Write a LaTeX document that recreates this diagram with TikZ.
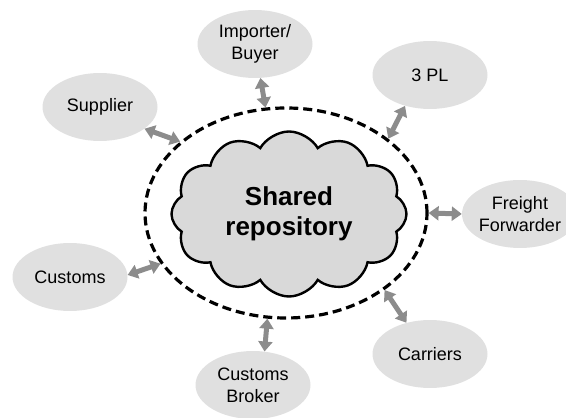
\documentclass[tikz,border=0pt]{standalone}
\usepackage{fontspec}
\setmainfont{Liberation Sans}
\usetikzlibrary{shapes}
\usetikzlibrary{arrows.meta}

\definecolor{partyfill}{HTML}{E0E0E0}
\definecolor{repofill}{HTML}{D9D9D9}
\definecolor{linkgray}{HTML}{8C8C8C}

\begin{document}
\begin{tikzpicture}[x=1pt,y=1pt,
    party/.style={ellipse,fill=partyfill,minimum width=115pt,minimum height=68pt,
      inner sep=0pt,align=center,font=\fontsize{18}{22}\selectfont},
    link/.style={{Triangle[length=10pt,width=14pt]}-{Triangle[length=10pt,width=14pt]},
      line width=5pt,draw=linkgray}]
    \useasboundingbox (0,0) rectangle (566,418);
    % Place nodes
    \node [ellipse,draw,line width=3.2pt,dash pattern=on 9pt off 5pt,
      minimum width=282pt,minimum height=210pt,inner sep=0pt] (ring) at (286,205) {};
    \node [cloud,draw,line width=2.4pt,fill=repofill,cloud puffs=12,cloud puff arc=120,
      cloud ignores aspect,minimum width=235pt,minimum height=165pt,inner sep=0pt,
      align=center,font=\fontsize{26}{30}\selectfont\bfseries] (repo) at (289,204) {Shared\\repository};
    \node [party] (buyer) at (255,374) {Importer/\\Buyer};
    \node [party] (tpl) at (430,343) {3 PL};
    \node [party] (supplier) at (100,311) {Supplier};
    \node [party] (freight) at (520,204) {Freight\\Forwarder};
    \node [party] (customs) at (70,141) {Customs};
    \node [party] (carriers) at (430,64) {Carriers};
    \node [party] (broker) at (253,33) {Customs\\Broker};
    % Links
    \draw [link] (buyer.279) -- (ring.101);
    \draw [link] (tpl.231) -- (ring.36);
    \draw [link] (supplier.-26) -- (ring.146);
    \draw [link] (freight.180) -- (ring.0);
    \draw [link] (customs.2) -- (ring.202);
    \draw [link] (carriers.127) -- (ring.-38);
    \draw [link] (broker.71) -- (ring.260);
\end{tikzpicture}
\end{document}
